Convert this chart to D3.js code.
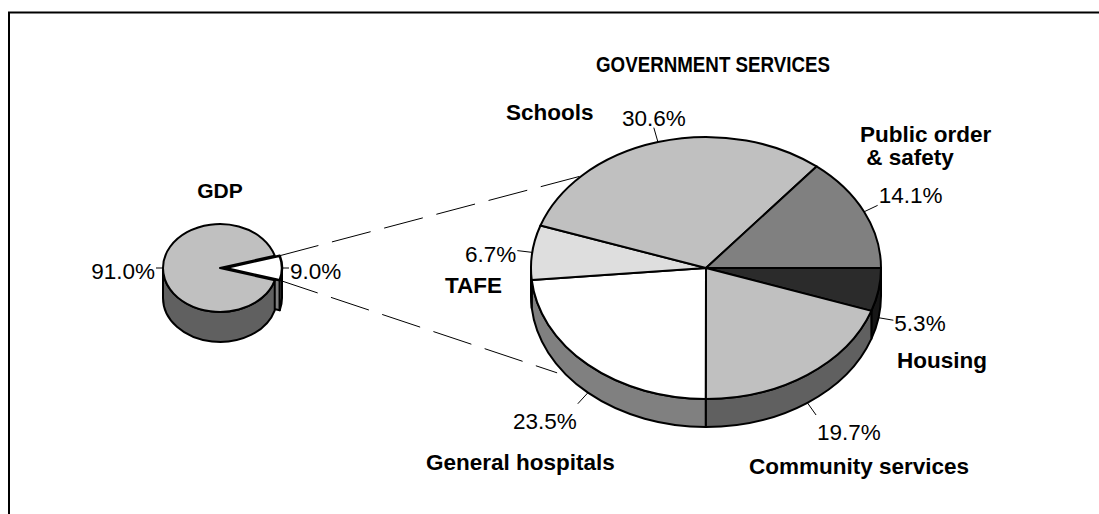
<!DOCTYPE html>
<html>
<head>
<meta charset="utf-8">
<script src="https://cdnjs.cloudflare.com/ajax/libs/d3/7.8.5/d3.min.js"></script>
<style>
  html, body { margin: 0; padding: 0; background: #fff; }
  svg { display: block; font-family: "Liberation Sans", Arial, sans-serif; }
</style>
</head>
<body>
<div id="chart"></div>
<script>
// share of GDP
const gdpNames = ['Government services', 'Rest of GDP'];
const gdpValues = [9.0, 91.0];
const gdpFills = ['#ffffff', '#c0c0c0'];

// breakdown of government services (clockwise from 3 o'clock)
const serviceNames = ['Housing', 'Community services', 'General hospitals', 'TAFE', 'Schools', 'Public order\n & safety'];
const serviceValues = [5.3, 19.7, 23.5, 6.7, 30.6, 14.1];
const serviceFills = ['#2b2b2b', '#c0c0c0', '#ffffff', '#dedede', '#c0c0c0', '#808080'];

const title = 'GOVERNMENT SERVICES';

// where the bold category names sit (left x, first baseline)
const nameSpots = {
  'Housing': [897, 368],
  'Community services': [749, 474],
  'General hospitals': [426, 470],
  'TAFE': [445, 293],
  'Schools': [506, 120],
  'Public order\n & safety': [860, 142]
};

const width = 1099, height = 514;
const big = { cx: 706, cy: 268, rx: 175, ry: 131, depth: 28, lead: 15 };
const small = { cx: 220, cy: 268, rx: 57, ry: 44, depth: 30, lead: 7 };
const explode = 5;
const fontSize = 22.5;

const svg = d3.select('#chart').append('svg')
  .attr('width', width)
  .attr('height', height);

// outer frame, runs off the right and bottom of the picture
svg.append('rect')
  .attr('x', 9).attr('y', 12.5)
  .attr('width', width + 20).attr('height', height + 20)
  .attr('fill', 'none').attr('stroke', '#000').attr('stroke-width', 2);

// d3 angle -> point on the tilted disc
function pt(g, a, dz) {
  return [g.cx + g.rx * Math.sin(a), g.cy - g.ry * Math.cos(a) + (dz || 0)];
}

function topPath(g, a0, a1) {
  const p0 = pt(g, a0), p1 = pt(g, a1);
  const large = (a1 - a0) > Math.PI ? 1 : 0;
  return `M${g.cx},${g.cy}L${p0}A${g.rx},${g.ry} 0 ${large} 1 ${p1}Z`;
}

function sidePath(g, a0, a1) {
  const p0 = pt(g, a0), p1 = pt(g, a1);
  const q0 = pt(g, a0, g.depth), q1 = pt(g, a1, g.depth);
  return `M${p0}A${g.rx},${g.ry} 0 0 1 ${p1}L${q1}A${g.rx},${g.ry} 0 0 0 ${q0}Z`;
}

// front wall runs from 3 o'clock to 9 o'clock
function frontPart(a0, a1) {
  const lo = Math.max(a0, Math.PI / 2), hi = Math.min(a1, 3 * Math.PI / 2);
  return hi > lo ? [lo, hi] : null;
}

function shade(c) {
  const r = d3.rgb(c);
  return d3.rgb(r.r * 0.5, r.g * 0.5, r.b * 0.5).formatHex();
}

function pctLabel(layer, g, a, isFront, text, ox) {
  const s = -Math.cos(a), c = Math.sin(a);
  const start = pt(g, a, isFront ? g.depth : 0);
  start[0] += ox || 0;
  const end = [start[0] + c * g.lead, start[1] + s * g.lead];
  layer.append('line')
    .attr('x1', start[0]).attr('y1', start[1])
    .attr('x2', end[0]).attr('y2', end[1])
    .attr('stroke', '#000').attr('stroke-width', 1);
  let anchor = 'middle', x = end[0];
  if (c > 0.45) { anchor = 'start'; x = end[0] + 1; }
  else if (c < -0.45) { anchor = 'end'; x = end[0] - 1; }
  let yc = end[1] + 3;
  if (s < -0.3) yc = end[1] - 10;
  else if (s > 0.45) yc = end[1] + 17;
  layer.append('text')
    .attr('x', x).attr('y', yc + 8)
    .attr('text-anchor', anchor)
    .attr('font-size', fontSize)
    .attr('fill', '#000')
    .text(text);
}

// ---------- big pie ----------
const bigArcs = d3.pie().sort(null)
  .startAngle(Math.PI / 2).endAngle(Math.PI / 2 + 2 * Math.PI)(serviceValues);

const gBig = svg.append('g');
bigArcs.forEach((d, i) => {
  const f = frontPart(d.startAngle, d.endAngle);
  if (f) {
    gBig.append('path')
      .attr('d', sidePath(big, f[0], f[1]))
      .attr('fill', shade(serviceFills[i]))
      .attr('stroke', '#000').attr('stroke-width', 2)
      .attr('stroke-linejoin', 'round');
  }
});
bigArcs.forEach((d, i) => {
  gBig.append('path')
    .attr('d', topPath(big, d.startAngle, d.endAngle))
    .attr('fill', serviceFills[i])
    .attr('stroke', '#000').attr('stroke-width', 2)
    .attr('stroke-linejoin', 'round');
});

// ---------- small pie ----------
const gdpSum = d3.sum(gdpValues);
const gdpArcs = d3.pie().sort(null)
  .startAngle(Math.PI / 2 - Math.PI * gdpValues[0] / gdpSum)
  .endAngle(Math.PI / 2 - Math.PI * gdpValues[0] / gdpSum + 2 * Math.PI)(gdpValues);

const gSmall = svg.append('g');
const wedge = gdpArcs[0], rest = gdpArcs[1];
const gWedge = gSmall.append('g').attr('transform', `translate(${explode},0)`);

// pulled-out wedge: outer wall and lower cut face first
{
  const f = frontPart(wedge.startAngle, wedge.endAngle);
  const a = wedge.endAngle;
  const p = pt(small, a), q = pt(small, a, small.depth);
  gWedge.append('path')
    .attr('d', `M${small.cx},${small.cy}L${p}L${q}L${small.cx},${small.cy + small.depth}Z`)
    .attr('fill', shade(gdpFills[0]))
    .attr('stroke', '#000').attr('stroke-width', 2).attr('stroke-linejoin', 'round');
  gWedge.append('path')
    .attr('d', sidePath(small, f[0], f[1]))
    .attr('fill', shade(gdpFills[0]))
    .attr('stroke', '#000').attr('stroke-width', 2).attr('stroke-linejoin', 'round');
}
{
  const f = frontPart(rest.startAngle, rest.endAngle);
  gSmall.append('path')
    .attr('d', sidePath(small, f[0], f[1]))
    .attr('fill', shade(gdpFills[1]))
    .attr('stroke', '#000').attr('stroke-width', 2).attr('stroke-linejoin', 'round');
  gSmall.append('path')
    .attr('d', topPath(small, rest.startAngle, rest.endAngle))
    .attr('fill', gdpFills[1])
    .attr('stroke', '#000').attr('stroke-width', 2).attr('stroke-linejoin', 'round');
}
gWedge.append('path')
  .attr('d', topPath(small, wedge.startAngle, wedge.endAngle))
  .attr('fill', gdpFills[0])
  .attr('stroke', '#000').attr('stroke-width', 2.5).attr('stroke-linejoin', 'round');

// ---------- connector lines ----------
const linkTop = [pt(small, wedge.startAngle), pt(big, (224.7 + 90) * Math.PI / 180)];
const linkBot = [pt(small, wedge.endAngle), pt(big, (148.3 + 90) * Math.PI / 180, big.depth + 8)];
[linkTop, linkBot].forEach(l => {
  svg.append('line')
    .attr('x1', l[0][0] + explode).attr('y1', l[0][1])
    .attr('x2', l[1][0]).attr('y2', l[1][1])
    .attr('stroke', '#000').attr('stroke-width', 1)
    .attr('stroke-dasharray', '40,14');
});

// ---------- labels ----------
const labels = svg.append('g');
bigArcs.forEach((d, i) => {
  const mid = (d.startAngle + d.endAngle) / 2;
  const front = -Math.cos(mid) > 0;
  pctLabel(labels, big, mid, front, d3.format('.1f')(serviceValues[i]) + '%');

  const spot = nameSpots[serviceNames[i]];
  serviceNames[i].split('\n').forEach((line, k) => {
    labels.append('text')
      .attr('x', spot[0]).attr('y', spot[1] + k * 23)
      .attr('font-size', fontSize).attr('font-weight', 'bold')
      .style('white-space', 'pre')
      .text(line);
  });
});
gdpArcs.forEach((d, i) => {
  const mid = (d.startAngle + d.endAngle) / 2;
  pctLabel(labels, small, mid, false, d3.format('.1f')(gdpValues[i]) + '%', i === 0 ? explode : 0);
});

labels.append('text')
  .attr('x', small.cx).attr('y', 198)
  .attr('text-anchor', 'middle')
  .attr('font-size', 21).attr('font-weight', 'bold')
  .text('GDP');

labels.append('text')
  .attr('x', 713).attr('y', 72)
  .attr('text-anchor', 'middle')
  .attr('font-size', 22).attr('font-weight', 'bold')
  .attr('textLength', 234).attr('lengthAdjust', 'spacingAndGlyphs')
  .text(title);
</script>
</body>
</html>
